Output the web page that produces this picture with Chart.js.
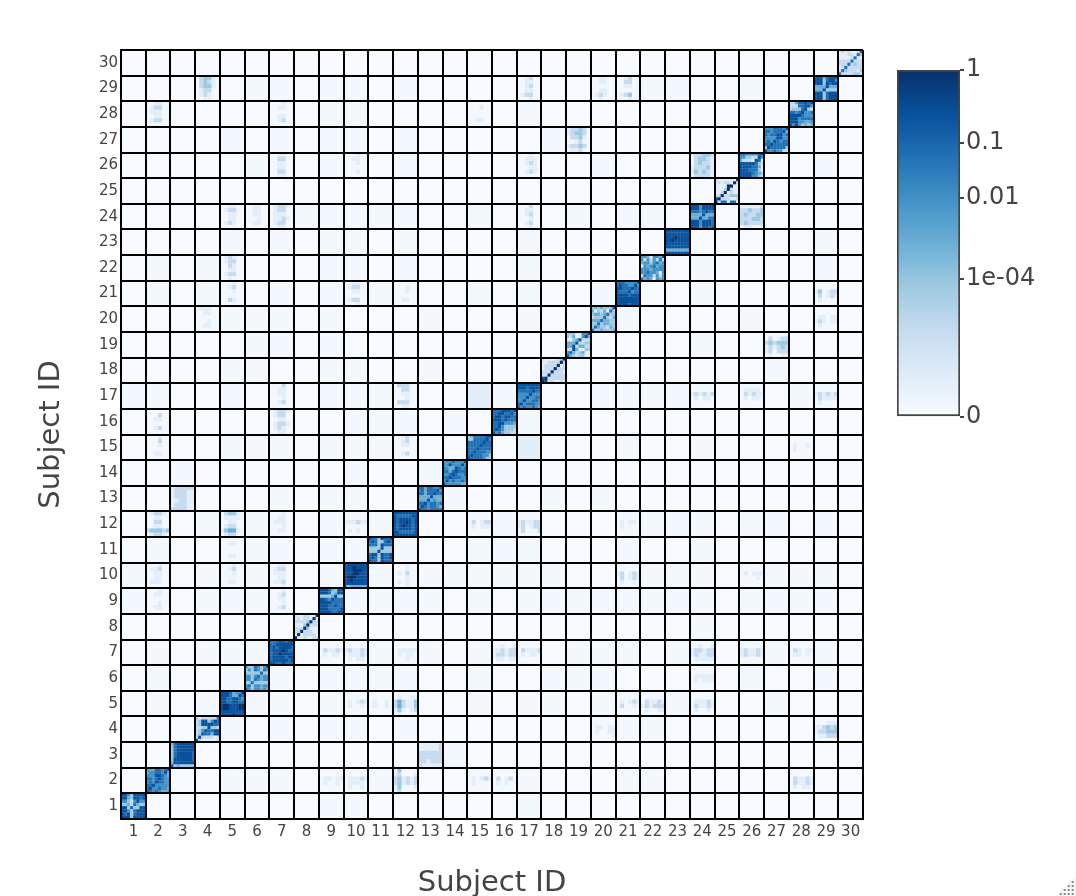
<!DOCTYPE html>
<html>
<head>
<meta charset="utf-8">
<title>Subject similarity heatmap</title>
<script src="https://cdn.jsdelivr.net/npm/chart.js@4"></script>
<style>
  html, body { margin: 0; padding: 0; background: #fff; overflow: hidden; }
  #wrap { position: relative; width: 1076px; height: 896px; }
  #heat { position: absolute; left: 0; top: 0; }
  #bar { position: absolute; left: 887px; top: 50px; }
  #grip { position: absolute; right: 0; bottom: 0; }
</style>
</head>
<body>
<div id="wrap">
  <canvas id="heat" width="1076" height="896"></canvas>
  <canvas id="bar" width="189" height="390"></canvas>
  <svg id="grip" width="20" height="20">
    <polygon points="20,0 20,20 0,20" fill="#f6f6f6"/>
    <path d="M15.7 5h2v2h-2zM15.7 9h2v2h-2zM11.7 9h2v2h-2zM15.7 13h2v2h-2zM11.7 13h2v2h-2zM7.7 13h2v2h-2zM15.7 17h2v2h-2zM11.7 17h2v2h-2zM7.7 17h2v2h-2zM3.7 17h2v2h-2z" fill="#8a8a8a"/>
  </svg>
</div>
<script>
const subjectIds = ['1','2','3','4','5','6','7','8','9','10','11','12','13','14','15','16','17','18','19','20','21','22','23','24','25','26','27','28','29','30'];
const cellEdges = [0.5,1.5,2.5,3.5,4.5,5.5,6.5,7.5,8.5,9.5,10.5,11.5,12.5,13.5,14.5,15.5,16.5,17.5,18.5,19.5,20.5,21.5,22.5,23.5,24.5,25.5,26.5,27.5,28.5,29.5,30.5];

// 0 = no similarity, 9 = similarity of 1
const toneColors = ['#f7fbff','#f2f8fe','#e3eef9','#c6dbef','#9ecae1','#6baed6','#4292c6','#2171b5','#08519c','#08306b'];

// background tone of each off-diagonal block, row by row (lower triangle, mirrored)
const blockTones = [
  '',
  '0',
  '00',
  '000',
  '0101',
  '01001',
  '010111',
  '0000000',
  '11011110',
  '110111101',
  '0100111011',
  '02011110111',
  '002000101100',
  '0010000001001',
  '01001110111100',
  '010000100111010',
  '1100101011120021',
  '00001100110010000',
  '000001101000000000',
  '0001111010001000100',
  '01011010121100101001',
  '010110001101000010000',
  '0000101011010000100000',
  '00001121111100101010110',
  '000000000000000000000000',
  '0000012011010000100100020',
  '00001010110100000110000000',
  '010000101100001010000000000',
  '0001011011010000100011100100',
  '00000000000000000000000000000'
];

// diagonal blocks, subject 1 to 30, each row read from the top of the block
const subjectBlocks = [
  ['88648888','88548878','66436866','44537544','88474488','88647888','87847888','88848888'],
  ['65577678','56677685','66688765','77678766','67687766','77866666','78667665','87676556'],
  ['57888888','47888888','47888888','47888887','47888887','48888887','58888888','84544444'],
  ['42333337','34884687','34888877','33448443','34687788','34877588','38333323','83222223'],
  ['88875669','88875587','88778876','88778877','89988899','89988899','88888888','88889888'],
  ['64476468','46476476','44444744','66467566','66476566','44744444','67466566','76466565'],
  ['77788788','77888888','78788887','78889877','78898888','78888788','78888878','88778777'],
  ['32233229','23233292','33334933','22249333','33394222','33933322','29233332','92232233'],
  ['88875488','88874588','44445844','88768777','88887777','88877877','88877778','88887788'],
  ['88888888','88898888','88899988','88899888','89998888','88988888','88888888','84555555'],
  ['87748778','78744787','77748777','44448444','44484444','78848778','78748778','87748777'],
  ['88888888','87777788','87888878','87889878','87898878','87888878','88777778','88888888'],
  ['77577668','67577786','77577877','55558555','55585655','77867767','68767765','87767777'],
  ['66676668','66866686','76558767','77578777','66787667','77877766','68676676','86666655'],
  ['45777788','44777786','77777877','77778777','77787777','77877766','78777664','87777644'],
  ['77788878','77887786','78878877','88878777','77886665','77864444','78764443','86754433'],
  ['88888888','88878888','77777877','66668666','66686677','66866776','78677766','86766765'],
  ['32222349','22333393','23333923','23339333','33393332','33933333','89333333','98332232'],
  ['44422668','43522685','22458333','55583344','55835533','33852244','67534522','85434422'],
  ['45454448','52435274','45545744','34447435','55575544','44745544','47544354','74454445'],
  ['77766668','78776686','88777877','87778677','88887888','88888888','88888888','88887888'],
  ['66526658','63636373','56646756','26567566','66656666','66766526','37663636','75652656'],
  ['88888888','88888888','88898888','88988888','88888888','88888888','55555555','88888888'],
  ['88868888','88868888','77767877','55558555','55585577','88868887','88868887','88868878'],
  ['32222229','23233293','22229922','22239322','22392322','33933444','89333223','93772772'],
  ['77666678','66443386','53332872','88888743','88887752','88877742','88887654','88886643'],
  ['66677768','77677785','76778867','66668866','67687677','77877777','48777774','86676633'],
  ['33577878','33377886','34447843','77678667','88887666','88867777','88866556','86864545'],
  ['88857888','88847886','88848788','55558555','55584444','88847888','88847888','88847888'],
  ['23232237','22233274','22223722','33337333','33373433','23733333','37433324','73333443']
];

// off-diagonal blocks with visible stripes (row > column), mirrored across the diagonal
const stripeRows = [12,12,12,12,13,10,10,10,10,21,21,21,24,24,24,24,26,26,26,26,17,17,16,16,29,29,28,28,27,22,20,15,15,9,9,11,29,29,28];
const stripeCols = [2,5,10,7,3,2,5,7,12,5,10,12,5,6,7,17,7,17,24,10,7,12,2,7,4,21,2,7,19,5,4,12,2,2,7,5,17,20,15];
const stripeCells = [
  ['123321','112211','113311','112211','344434','123321'],
  ['134421','122221','112211','123311','245521','123311'],
  ['112211','122321','112211','111211','122311','112211'],
  ['111211','112211','122211','111211','112211','111111'],
  ['233333','233322','233322','223322','233322','333322'],
  ['111211','122311','112211','112211','122211','111111'],
  ['111211','112311','111211','111111','112211','111111'],
  ['112211','123311','122211','112211','122311','111211'],
  ['111211','111211','121311','111211','121211','111211'],
  ['111211','112311','111211','111111','113211','111111'],
  ['112211','123311','112211','111111','123311','111211'],
  ['111111','111211','111211','111111','112211','111111'],
  ['112211','123311','112211','112211','123211','111111'],
  ['112211','112211','112211','111211','112211','111111'],
  ['123321','123311','122211','122321','123311','112211'],
  ['111311','112211','112311','111211','112311','111211'],
  ['112211','113311','112211','112211','113311','112211'],
  ['111211','112221','112321','111221','112321','111111'],
  ['233443','134432','134332','233342','243432','133332'],
  ['111211','112211','111211','111111','111211','111111'],
  ['111311','112211','112211','111211','112311','111111'],
  ['133311','113311','112211','111211','133311','112211'],
  ['111111','111311','112211','111111','112311','111111'],
  ['123321','123311','112211','123321','123211','112211'],
  ['134421','134321','134421','123311','123211','112211'],
  ['112311','113311','112211','111111','123411','111211'],
  ['112211','123311','122211','112211','123311','111111'],
  ['111211','112211','111111','112211','112311','111111'],
  ['233431','234431','133421','112311','233431','122311'],
  ['123211','123311','113211','112211','123311','112111'],
  ['122211','112211','111111','111211','112211','111111'],
  ['112311','112311','112211','111111','112311','111111'],
  ['111211','111311','111211','111111','112211','111111'],
  ['111211','112211','111111','111211','112211','111111'],
  ['111211','112311','112211','111211','112311','111111'],
  ['111111','112211','111111','111111','112211','111111'],
  ['112311','112211','112311','112211','123311','111211'],
  ['112211','112211','111111','112211','123211','112111'],
  ['111111','111211','111111','111111','112211','111111']
];

const colorbarStops = ['#f7fbff','#deebf7','#c6dbef','#9ecae1','#6baed6','#4292c6','#2171b5','#08519c','#08306b'];
const colorbarLabels = ['0','1e-04','0.01','0.1','1'];
const colorbarPositions = [0,0.397,0.632,0.79,1];

function blockPoints() {
  const pts = [];
  blockTones.forEach((row, r) => {
    pts.push({x: r + 1, y: r + 1, tone: 0});
    [...row].forEach((d, c) => {
      pts.push({x: c + 1, y: r + 1, tone: +d});
      pts.push({x: r + 1, y: c + 1, tone: +d});
    });
  });
  return pts;
}

// split one block into its cells; rows are listed top first
function cellsOf(col, row, rows) {
  const n = rows.length;
  const pts = [];
  rows.forEach((line, a) => {
    [...line].forEach((d, b) => {
      pts.push({x: col - 0.5 + (b + 0.5) / n, y: row + 0.5 - (a + 0.5) / n, tone: +d});
    });
  });
  return pts;
}

function stripePoints() {
  const pts = [];
  stripeCells.forEach((rows, i) => {
    cellsOf(stripeCols[i], stripeRows[i], rows).forEach(p => {
      pts.push(p);
      pts.push({x: p.y, y: p.x, tone: p.tone});
    });
  });
  return pts;
}

function diagonalPoints() {
  return subjectBlocks.flatMap((rows, i) => cellsOf(i + 1, i + 1, rows));
}

function radiusFor(span) {
  return ctx => {
    const s = ctx.chart.scales;
    if (!s.x) return 0;
    const side = Math.max(s.x.width, s.y.height) / 30 * span;
    return (side + 0.2) / Math.SQRT2;
  };
}

function heatDataset(data, span) {
  return {
    data,
    pointStyle: 'rect',
    pointRadius: radiusFor(span),
    pointHoverRadius: radiusFor(span),
    pointBorderWidth: 0,
    pointBackgroundColor: ctx => ctx.raw ? toneColors[ctx.raw.tone] : toneColors[0],
    showLine: false
  };
}

// reference heatmap is smoothed, grid lines stay sharp because they are drawn after
const smoothCells = {
  id: 'smoothCells',
  beforeDatasetsDraw: c => { c.ctx.filter = 'blur(0.6px)'; },
  afterDatasetsDraw: c => { c.ctx.filter = 'none'; }
};

const FONT = '"DejaVu Sans", Verdana, sans-serif';

new Chart(document.getElementById('heat'), {
  type: 'scatter',
  plugins: [smoothCells],
  data: {
    // first dataset is drawn last
    datasets: [
      heatDataset(diagonalPoints(), 1 / 8),
      heatDataset(stripePoints(), 1 / 6),
      heatDataset(blockPoints(), 1)
    ]
  },
  options: {
    responsive: false,
    animation: false,
    events: [],
    layout: { padding: { top: 50, right: 213, left: 0, bottom: 0 } },
    plugins: { legend: { display: false }, tooltip: { enabled: false } },
    scales: {
      x: {
        type: 'linear',
        min: 0.5,
        max: 30.5,
        afterBuildTicks: s => { s.ticks = cellEdges.map(v => ({ value: v })); },
        afterFit: s => { s.height = 77; },
        grid: { color: '#000', lineWidth: 2, z: 1, drawTicks: false },
        border: { color: '#000', width: 2, z: 1 },
        ticks: {
          autoSkip: false,
          maxRotation: 0,
          padding: 4,
          labelOffset: 12.4,
          color: '#444',
          font: { family: FONT, size: 15 },
          callback: (v, i) => subjectIds[i] || ''
        },
        title: {
          display: true,
          text: 'Subject ID',
          color: '#444',
          font: { family: FONT, size: 29 },
          padding: { top: 0, bottom: -5 }
        }
      },
      y: {
        type: 'linear',
        min: 0.5,
        max: 30.5,
        afterBuildTicks: s => { s.ticks = cellEdges.map(v => ({ value: v })); },
        afterFit: s => { s.width = 121; },
        grid: { color: '#000', lineWidth: 2, z: 1, drawTicks: false },
        border: { color: '#000', width: 2, z: 1 },
        ticks: {
          autoSkip: false,
          padding: 3,
          labelOffset: -12.8,
          color: '#444',
          font: { family: FONT, size: 15 },
          callback: (v, i) => subjectIds[i] || ''
        },
        title: {
          display: true,
          text: 'Subject ID',
          color: '#444',
          font: { family: FONT, size: 29 },
          padding: { top: 34, bottom: 0 }
        }
      }
    }
  }
});

new Chart(document.getElementById('bar'), {
  type: 'bar',
  data: {
    labels: [''],
    datasets: [{
      data: [[0, 1]],
      barPercentage: 1,
      categoryPercentage: 1,
      borderWidth: 2,
      borderSkipped: false,
      borderColor: '#444',
      backgroundColor: ctx => {
        const y = ctx.chart.scales.y;
        if (!y || !y.height) return colorbarStops[4];
        const g = ctx.chart.ctx.createLinearGradient(0, y.getPixelForValue(0), 0, y.getPixelForValue(1));
        colorbarStops.forEach((c, i) => g.addColorStop(i / (colorbarStops.length - 1), c));
        return g;
      }
    }]
  },
  options: {
    responsive: false,
    animation: false,
    events: [],
    layout: { padding: { top: 20, left: 10, right: 0, bottom: 23 } },
    plugins: { legend: { display: false }, tooltip: { enabled: false } },
    scales: {
      x: { display: false, grid: { display: false } },
      y: {
        position: 'right',
        min: 0,
        max: 1,
        afterBuildTicks: s => { s.ticks = colorbarPositions.map(v => ({ value: v })); },
        afterFit: s => { s.width = 116; },
        grid: { drawOnChartArea: false, color: '#444', lineWidth: 2, tickLength: 4 },
        border: { display: false },
        ticks: {
          autoSkip: false,
          padding: 2,
          color: '#444',
          font: { family: FONT, size: 24 },
          callback: (v, i) => colorbarLabels[i]
        }
      }
    }
  }
});
</script>
</body>
</html>
